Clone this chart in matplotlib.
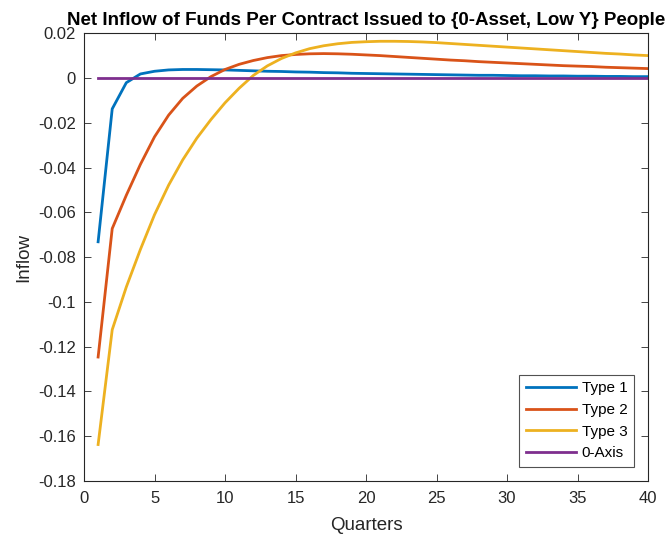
import numpy as np
import matplotlib.pyplot as plt

plt.rcParams['font.family'] = ['Liberation Sans', 'DejaVu Sans']

quarters = list(range(1, 41))

type1 = [-0.0731, -0.0137, -0.0020, 0.0019, 0.0031, 0.0037, 0.0039, 0.0039, 0.0038, 0.0037,
         0.0035, 0.0033, 0.0031, 0.0030, 0.0028, 0.0027, 0.0025, 0.0024, 0.0022, 0.0021,
         0.0020, 0.0019, 0.0018, 0.0017, 0.0016, 0.0015, 0.0014, 0.0013, 0.0013, 0.0012,
         0.0011, 0.0011, 0.0010, 0.0010, 0.0009, 0.0009, 0.0008, 0.0008, 0.0007, 0.0007]

type2 = [-0.1246, -0.0672, -0.0523, -0.0385, -0.0262, -0.0165, -0.0090, -0.0035, 0.0007, 0.0039,
         0.0062, 0.0079, 0.0092, 0.0101, 0.0106, 0.0109, 0.0110, 0.0109, 0.0107, 0.0104,
         0.0101, 0.0097, 0.0093, 0.0089, 0.0085, 0.0081, 0.0078, 0.0074, 0.0071, 0.0068,
         0.0065, 0.0062, 0.0059, 0.0056, 0.0054, 0.0052, 0.0049, 0.0047, 0.0045, 0.0043]

type3 = [-0.1637, -0.1124, -0.0933, -0.0765, -0.0610, -0.0478, -0.0365, -0.0268, -0.0185, -0.0110,
         -0.0045, 0.0012, 0.0055, 0.0088, 0.0113, 0.0132, 0.0145, 0.0154, 0.0160, 0.0163,
         0.0165, 0.0165, 0.0164, 0.0162, 0.0159, 0.0155, 0.0151, 0.0147, 0.0143, 0.0139,
         0.0135, 0.0131, 0.0127, 0.0123, 0.0119, 0.0115, 0.0111, 0.0108, 0.0104, 0.0101]

zero_axis = [0.0] * 40

series = [('Type 1', type1, (0, 0.447, 0.741)),
          ('Type 2', type2, (0.85, 0.325, 0.098)),
          ('Type 3', type3, (0.929, 0.694, 0.125)),
          ('0-Axis', zero_axis, (0.494, 0.184, 0.556))]

fig = plt.figure(figsize=(6.7, 5.36), dpi=100)
ax = fig.add_axes([0.1254, 0.1026, 0.8418, 0.835])

for name, vals, col in series:
    ax.plot(quarters, vals, color=col, lw=2, label=name)

ax.set_xlim(0, 40)
ax.set_ylim(-0.18, 0.02)
ax.set_xticks(np.arange(0, 41, 5))
ax.set_yticks(np.arange(-0.18, 0.021, 0.02))
ax.set_yticklabels(['-0.18', '-0.16', '-0.14', '-0.12', '-0.1', '-0.08', '-0.06',
                    '-0.04', '-0.02', '0', '0.02'])

dark = (0.15, 0.15, 0.15)
ax.tick_params(direction='in', top=True, right=True, labelsize=12, colors=dark,
               length=5, width=0.6)
ax.tick_params(axis='y', pad=6)
ax.tick_params(axis='x', pad=7)
for sp in ax.spines.values():
    sp.set_color(dark)
    sp.set_linewidth(0.8)

ax.set_xlabel('Quarters', fontsize=13.5, color=dark, labelpad=8)
ax.set_ylabel('Inflow', fontsize=13.5, color=dark, labelpad=4)
ax.set_title('Net Inflow of Funds Per Contract Issued to {0-Asset, Low Y} People',
             fontsize=13.5, fontweight='bold', pad=6)

leg = ax.legend(loc='lower right', fontsize=11, fancybox=False, edgecolor=dark,
                handlelength=3.3, borderaxespad=0.9, labelspacing=0.5,
                handletextpad=0.35, borderpad=0.45)
leg.get_frame().set_linewidth(0.8)

plt.savefig('out.png', dpi=100)
